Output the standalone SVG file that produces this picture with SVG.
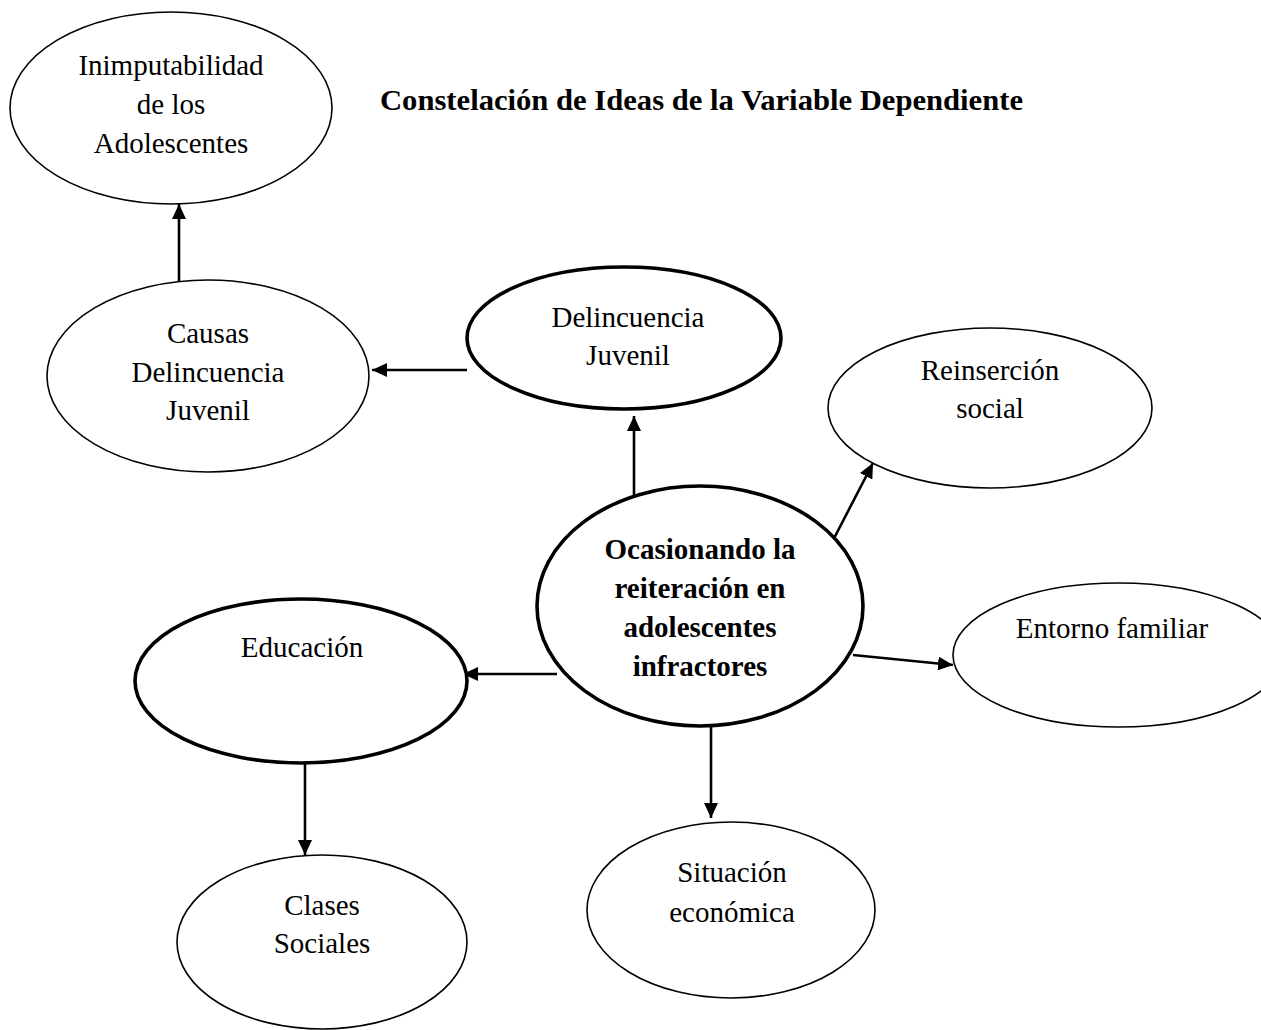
<svg xmlns="http://www.w3.org/2000/svg" width="1261" height="1030" viewBox="0 0 1261 1030">
<style>
.thin{fill:#fff;stroke:#000;stroke-width:1.6}
.thick{fill:#fff;stroke:#000;stroke-width:3.6}
.t{font-family:"Liberation Serif","Times New Roman",serif;font-size:29px;fill:#000;text-anchor:middle}
.b{font-weight:bold}
.title{font-family:"Liberation Serif","Times New Roman",serif;font-size:30px;font-weight:bold;fill:#000}
.c{stroke:#000;stroke-width:2.6;fill:none;marker-end:url(#ah)}
</style>
<defs>
<marker id="ah" markerUnits="userSpaceOnUse" markerWidth="15" markerHeight="14" refX="15" refY="7" orient="auto">
<path d="M0,0 L15,7 L0,14 z" fill="#000"/>
</marker>
</defs>
<rect width="1261" height="1030" fill="#fff"/>
<text class="title" x="380" y="110" textLength="643" lengthAdjust="spacingAndGlyphs">Constelación de Ideas de la Variable Dependiente</text>

<g id="connectors">
<line class="c" x1="179" y1="289" x2="179" y2="204"/>
<line class="c" x1="467" y1="370" x2="372" y2="370"/>
<line class="c" x1="634" y1="500" x2="634" y2="416"/>
<line class="c" x1="829" y1="548" x2="873" y2="463"/>
<line class="c" x1="853" y1="655" x2="953" y2="665"/>
<line class="c" x1="557" y1="674" x2="463" y2="674"/>
<line class="c" x1="305" y1="758" x2="305" y2="855"/>
<line class="c" x1="711" y1="723" x2="711" y2="818"/>
</g>

<g id="inimputabilidad">
<ellipse class="thin" cx="171" cy="108" rx="161" ry="96"/>
<text class="t" x="171" y="75">Inimputabilidad</text>
<text class="t" x="171" y="114">de los</text>
<text class="t" x="171" y="153">Adolescentes</text>
</g>

<g id="causas">
<ellipse class="thin" cx="208" cy="376" rx="161" ry="96"/>
<text class="t" x="208" y="343">Causas</text>
<text class="t" x="208" y="382">Delincuencia</text>
<text class="t" x="208" y="420">Juvenil</text>
</g>

<g id="delincuencia">
<ellipse class="thick" cx="624" cy="338" rx="157" ry="71"/>
<text class="t" x="628" y="327">Delincuencia</text>
<text class="t" x="628" y="365">Juvenil</text>
</g>

<g id="reinsercion">
<ellipse class="thin" cx="990" cy="408" rx="162" ry="80"/>
<text class="t" x="990" y="380">Reinserción</text>
<text class="t" x="990" y="418">social</text>
</g>

<g id="main">
<ellipse class="thick" cx="700" cy="606" rx="163" ry="120"/>
<text class="t b" x="700" y="559">Ocasionando la</text>
<text class="t b" x="700" y="598">reiteración en</text>
<text class="t b" x="700" y="637">adolescentes</text>
<text class="t b" x="700" y="676">infractores</text>
</g>

<g id="entorno">
<ellipse class="thin" cx="1118" cy="655" rx="165" ry="72"/>
<text class="t" x="1112" y="638">Entorno familiar</text>
</g>

<g id="educacion">
<ellipse class="thick" cx="301" cy="681" rx="166" ry="82"/>
<text class="t" x="302" y="657">Educación</text>
</g>

<g id="clases">
<ellipse class="thin" cx="322" cy="942" rx="145" ry="87"/>
<text class="t" x="322" y="915">Clases</text>
<text class="t" x="322" y="953">Sociales</text>
</g>

<g id="situacion">
<ellipse class="thin" cx="731" cy="910" rx="144" ry="88"/>
<text class="t" x="732" y="882">Situación</text>
<text class="t" x="732" y="922">económica</text>
</g>
</svg>
